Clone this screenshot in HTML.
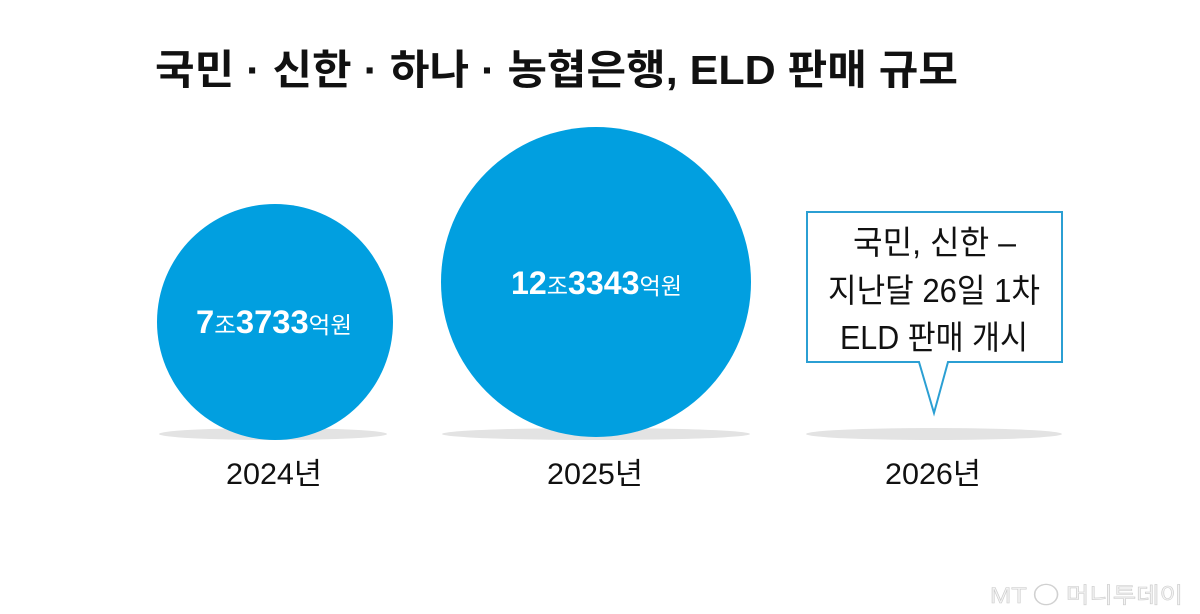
<!DOCTYPE html>
<html><head><meta charset="utf-8"><style>
html,body{margin:0;padding:0;background:#fff;}
svg{display:block;}
text{font-family:"Liberation Sans","Noto Sans CJK KR",sans-serif;}
</style></head><body>
<svg width="1200" height="614" viewBox="0 0 1200 614" xmlns="http://www.w3.org/2000/svg">
<rect width="1200" height="614" fill="#fff"/>
<text x="155" y="84" font-size="41" font-weight="bold" fill="#111" textLength="803" lengthAdjust="spacingAndGlyphs">국민 · 신한 · 하나 · 농협은행, ELD 판매 규모</text>
<ellipse cx="273" cy="434" rx="114" ry="6" fill="#e3e3e3"/>
<ellipse cx="596" cy="434" rx="154" ry="6" fill="#e3e3e3"/>
<ellipse cx="934" cy="434" rx="128" ry="6" fill="#e3e3e3"/>
<circle cx="275" cy="322" r="118" fill="#019fe0"/>
<circle cx="596" cy="282" r="155" fill="#019fe0"/>
<text x="196" y="333" fill="#fff" textLength="156" lengthAdjust="spacingAndGlyphs"><tspan font-size="32" font-weight="bold">7</tspan><tspan font-size="23">조</tspan><tspan font-size="32" font-weight="bold">3733</tspan><tspan font-size="23">억원</tspan></text>
<text x="511" y="294" fill="#fff" textLength="171" lengthAdjust="spacingAndGlyphs"><tspan font-size="32" font-weight="bold">12</tspan><tspan font-size="23">조</tspan><tspan font-size="32" font-weight="bold">3343</tspan><tspan font-size="23">억원</tspan></text>
<path d="M807 212 H1062 V362 H948 L934 413 L919 362 H807 Z" fill="#fff" stroke="#2b9fd3" stroke-width="2"/>
<g font-size="33" fill="#111">
<text x="853" y="254" textLength="163" lengthAdjust="spacingAndGlyphs">국민, 신한 –</text>
<text x="828" y="302" textLength="212" lengthAdjust="spacingAndGlyphs">지난달 26일 1차</text>
<text x="840" y="349" textLength="188" lengthAdjust="spacingAndGlyphs">ELD 판매 개시</text>
</g>
<g font-size="30" fill="#111">
<text x="226" y="484" textLength="96" lengthAdjust="spacingAndGlyphs">2024년</text>
<text x="547" y="484" textLength="96" lengthAdjust="spacingAndGlyphs">2025년</text>
<text x="885" y="484" textLength="96" lengthAdjust="spacingAndGlyphs">2026년</text>
</g>
<text x="990" y="603" font-size="22" fill="#f4f4f4" stroke="#ccc" stroke-width="0.6" textLength="193" lengthAdjust="spacingAndGlyphs">MT ◯ 머니투데이</text>
</svg>
</body></html>
